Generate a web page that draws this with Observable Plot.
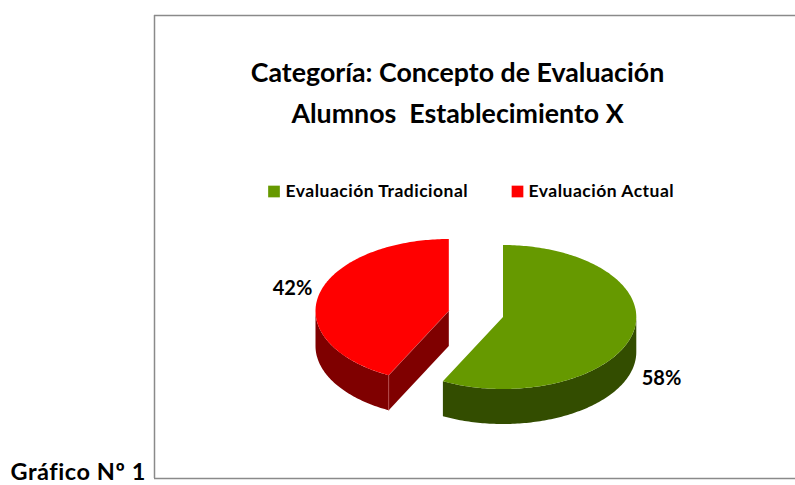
<!DOCTYPE html>
<html>
<head>
<meta charset="utf-8">
<script src="https://cdn.jsdelivr.net/npm/d3@7"></script>
<script src="https://cdn.jsdelivr.net/npm/@observablehq/plot@0.6"></script>
<style>
html,body{margin:0;padding:0;background:#fff;overflow:hidden}
svg{display:block}
.spaced-legend text{letter-spacing:0.5px}
.spaced-figure text{letter-spacing:0.55px}
</style>
</head>
<body>
<div id="chart"></div>
<script>
const categories = ["Evaluación Tradicional", "Evaluación Actual"];
const shares = [58, 42];
const shareLabels = ["58%", "42%"];
const titleLines = ["Categoría: Concepto de Evaluación", "Alumnos  Establecimiento X"];
const figureLabel = "Gráfico Nº 1";
const topColors = ["#669900", "#FF0000"];
const sideColors = ["#334D00", "#7F0000"];

const W = 795, H = 485;
const font = "Lato, Carlito, sans-serif";
// Pie layout: each slice's exploded centre, ellipse radii and wall depth
const centres = [[502.5, 316.5], [448.3, 310.5]];
const rx = 133.3, ry = 72, depth = 35;
const labelPos = [[661, 378], [292, 288]];
const viewSkew = -2; // the 3D projection pulls the cut slightly forward

const total = d3.sum(shares);
const cutAngle = shares[0] / total * 360 + viewSkew; // clockwise from 12 o'clock

const pt = (i, deg, dy = 0) => {
  const a = deg * Math.PI / 180;
  return {x: centres[i][0] + rx * Math.sin(a), y: centres[i][1] - ry * Math.cos(a) + dy};
};
const arc = (i, a0, a1, dy = 0) => {
  const n = Math.max(2, Math.ceil(Math.abs(a1 - a0)));
  return d3.range(n + 1).map(k => pt(i, a0 + (a1 - a0) * k / n, dy));
};
const centre = (i, dy = 0) => ({x: centres[i][0], y: centres[i][1] + dy});

const polys = [];
const add = (id, name, points) => points.forEach(p => polys.push({...p, id, name}));

// Walls
add("wall0", "side0", [...arc(0, 90, cutAngle), ...arc(0, cutAngle, 90, depth)]);
add("wall1", "side1", [...arc(1, cutAngle, 270), ...arc(1, 270, cutAngle, depth)]);
add("cut1", "side1", [centre(1), pt(1, cutAngle), pt(1, cutAngle, depth), centre(1, depth)]);
// Tops
add("top0", "top0", [centre(0), ...arc(0, 0, cutAngle)]);
add("top1", "top1", [centre(1), ...arc(1, cutAngle, 360)]);

const highlight = [
  {x: centre(1).x, y: centre(1).y, id: "a"}, {...pt(1, cutAngle), id: "a"},
  {...pt(1, cutAngle), id: "b"}, {...pt(1, cutAngle, depth), id: "b"}
];

const legendRows = categories.map((name, i) => ({
  name, color: topColors[i], sx: [273.5, 517][i], tx: [285, 528][i]
}));
const labelRows = shareLabels.map((t, i) => ({t, x: labelPos[i][0], y: labelPos[i][1]}));
const titleRows = titleLines.map((t, i) => ({t, y: [73, 114][i]}));

const chart = Plot.plot({
  width: W, height: H, margin: 0,
  x: {domain: [0, W], range: [0, W], axis: null},
  y: {domain: [0, H], range: [0, H], axis: null},
  style: {background: "#fff", fontFamily: font},
  marks: [
    Plot.ruleX([154], {y1: 15, y2: 478, stroke: "#8a8a8a", strokeWidth: 1.5}),
    Plot.ruleY([15, 478], {x1: 154, x2: W, stroke: "#8a8a8a", strokeWidth: 1.5}),
    Plot.line(polys, {
      x: "x", y: "y", z: "id",
      fill: d => ({side0: sideColors[0], side1: sideColors[1], top0: topColors[0], top1: topColors[1]})[d.name],
      stroke: "none"
    }),
    Plot.line(highlight, {x: "x", y: "y", z: "id", stroke: "#c85a5a", strokeWidth: 0.6}),
    Plot.text(titleRows, {
      x: 457, y: "y", text: "t", fontSize: 26.75, fontWeight: 700, fill: "#000",
      fontFamily: font, textAnchor: "middle", lineAnchor: "middle"
    }),
    Plot.dot(legendRows, {
      x: "sx", y: 191, symbol: "square", r: 6.6, fill: "color", stroke: "none"
    }),
    Plot.text(legendRows, {
      x: "tx", y: 191, text: "name", fontSize: 17.5, fontWeight: 700, fill: "#000",
      fontFamily: font, textAnchor: "start", lineAnchor: "middle", className: "spaced-legend"
    }),
    Plot.text(labelRows, {
      x: "x", y: "y", text: "t", fontSize: 20, fontWeight: 700, fill: "#000",
      fontFamily: font, textAnchor: "middle", lineAnchor: "middle"
    }),
    Plot.text([figureLabel], {
      x: 10, y: 472, text: d => d, fontSize: 23.5, fontWeight: 700, fill: "#000",
      fontFamily: font, textAnchor: "start", lineAnchor: "middle", className: "spaced-figure"
    })
  ]
});
document.getElementById("chart").appendChild(chart);
</script>
</body>
</html>
